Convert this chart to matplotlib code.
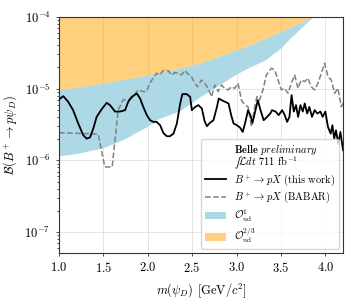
import matplotlib
matplotlib.use("Agg")
import matplotlib.pyplot as plt
from matplotlib.lines import Line2D
from matplotlib.patches import Patch
import numpy as np

plt.rcParams['font.family'] = 'serif'
plt.rcParams['font.serif'] = ['cmr10']
plt.rcParams['mathtext.fontset'] = 'cm'
plt.rcParams['axes.formatter.use_mathtext'] = True

# Belle limit (this work)
belle_m = [1.0, 1.05, 1.105, 1.16, 1.218, 1.274, 1.313, 1.35, 1.387, 1.425, 1.48, 1.538,
           1.576, 1.632, 1.688, 1.745, 1.78, 1.82, 1.877, 1.914, 1.95, 1.99, 2.027, 2.064,
           2.10, 2.14, 2.177, 2.215, 2.25, 2.29, 2.328, 2.366, 2.39, 2.44, 2.478, 2.497,
           2.535, 2.57, 2.61, 2.64, 2.667, 2.70, 2.74, 2.78, 2.80, 2.83, 2.874, 2.91, 2.94,
           2.967, 3.005, 3.04, 3.07, 3.10, 3.13, 3.156, 3.18, 3.21, 3.24, 3.27, 3.306, 3.344,
           3.38, 3.40, 3.44, 3.475, 3.514, 3.543, 3.57, 3.596, 3.62, 3.645, 3.67, 3.694, 3.72,
           3.746, 3.768, 3.796, 3.82, 3.85, 3.88, 3.91, 3.945, 3.97, 4.00, 4.03, 4.06, 4.08,
           4.10, 4.12, 4.145, 4.17, 4.20]
belle_br = [7.06e-6, 7.85e-6, 6.53e-6, 5.01e-6, 3.26e-6, 2.24e-6, 2.01e-6, 2.09e-6, 2.77e-6,
            4.04e-6, 5.13e-6, 6.34e-6, 5.89e-6, 4.79e-6, 4.79e-6, 5.01e-6, 6.53e-6, 7.67e-6,
            8.57e-6, 7.29e-6, 5.56e-6, 4.27e-6, 3.63e-6, 3.44e-6, 3.44e-6, 3.09e-6, 2.40e-6,
            2.17e-6, 2.17e-6, 2.36e-6, 3.26e-6, 6.21e-6, 8.38e-6, 8.38e-6, 7.67e-6, 5.01e-6,
            5.56e-6, 5.89e-6, 5.28e-6, 3.55e-6, 2.99e-6, 3.33e-6, 3.63e-6, 5.56e-6, 7.29e-6,
            6.92e-6, 6.53e-6, 6.21e-6, 4.27e-6, 3.26e-6, 3.09e-6, 2.86e-6, 2.49e-6, 3.44e-6,
            5.01e-6, 4.27e-6, 3.33e-6, 4.79e-6, 6.92e-6, 5.01e-6, 3.63e-6, 4.04e-6, 4.50e-6,
            5.01e-6, 4.79e-6, 4.27e-6, 5.01e-6, 4.27e-6, 3.44e-6, 4.04e-6, 8.11e-6, 4.79e-6,
            5.89e-6, 4.04e-6, 5.89e-6, 4.79e-6, 6.21e-6, 4.50e-6, 5.56e-6, 4.04e-6, 5.01e-6,
            4.50e-6, 4.79e-6, 4.04e-6, 4.79e-6, 2.92e-6, 2.36e-6, 3.09e-6, 2.01e-6, 2.63e-6,
            1.71e-6, 2.49e-6, 1.38e-6]

# BABAR limit
babar_m = [1.0, 1.442, 1.517, 1.60, 1.667, 1.723, 1.80, 1.836, 1.892, 1.948, 1.987, 2.024,
           2.061, 2.10, 2.136, 2.173, 2.23, 2.268, 2.305, 2.342, 2.38, 2.417, 2.454, 2.493,
           2.53, 2.56, 2.605, 2.642, 2.68, 2.718, 2.755, 2.792, 2.83, 2.867, 2.904, 2.943,
           2.98, 3.017, 3.055, 3.092, 3.13, 3.168, 3.205, 3.23, 3.26, 3.298, 3.336, 3.392,
           3.43, 3.467, 3.505, 3.542, 3.58, 3.618, 3.655, 3.692, 3.73, 3.767, 3.804, 3.842,
           3.88, 3.917, 3.955, 3.992, 4.03, 4.067, 4.105, 4.142, 4.18, 4.2]
babar_br = [2.43e-6, 2.33e-6, 8.1e-7, 8.1e-7, 5.0e-6, 6.95e-6, 7.1e-6, 7.7e-6, 9.6e-6, 9.1e-6,
            9.1e-6, 1.19e-5, 1.40e-5, 1.64e-5, 1.55e-5, 1.78e-5, 1.78e-5, 1.55e-5, 1.67e-5,
            1.64e-5, 1.55e-5, 1.78e-5, 1.60e-5, 1.47e-5, 1.19e-5, 1.06e-5, 1.32e-5, 1.19e-5,
            1.01e-5, 7.7e-6, 1.12e-5, 9.1e-6, 1.12e-5, 1.01e-5, 9.6e-6, 1.06e-5, 1.01e-5,
            1.19e-5, 6.95e-6, 5.9e-6, 5.6e-6, 2.94e-6, 5.6e-6, 7.7e-6, 6.95e-6, 9.6e-6,
            1.55e-5, 1.92e-5, 1.82e-5, 1.32e-5, 9.6e-6, 1.01e-5, 8.6e-6, 1.19e-5, 1.55e-5,
            1.01e-5, 1.32e-5, 1.25e-5, 1.40e-5, 1.06e-5, 9.6e-6, 1.19e-5, 1.64e-5, 2.26e-5,
            1.47e-5, 1.32e-5, 8.6e-6, 1.01e-5, 5.6e-6, 6.25e-6]

# operator bands
band_m = [1.0, 1.22, 1.5, 1.74, 1.8, 2.0, 2.12, 2.3, 2.37, 2.59, 3.0, 3.15, 3.32, 3.5, 3.6, 3.86, 4.2]
band_low = [1.15e-6, 1.26e-6, 1.5e-6, 2.0e-6, 2.2e-6, 3.0e-6, 3.8e-6, 4.6e-6, 5.0e-6, 7.7e-6,
            1.6e-5, 2.0e-5, 2.5e-5, 3.7e-5, 5.0e-5, 1.0e-4, 3.0e-4]
band_mid = [9.6e-6, 1.05e-5, 1.19e-5, 1.35e-5, 1.39e-5, 1.55e-5, 1.68e-5, 1.85e-5, 1.94e-5,
            2.26e-5, 3.47e-5, 4.07e-5, 5.0e-5, 6.24e-5, 7.1e-5, 1.0e-4, 1.8e-4]
band_top = 1e-3

fig, ax = plt.subplots(figsize=(3.57, 3.01), dpi=100)
fig.subplots_adjust(left=0.165, right=0.961, bottom=0.159, top=0.944)

ax.fill_between(band_m, band_low, band_mid, color='lightblue', lw=0, zorder=1)
ax.fill_between(band_m, band_mid, band_top, color='orange', alpha=0.5, lw=0, zorder=1)
ax.plot(belle_m, belle_br, color='black', lw=1.3, zorder=3)
ax.plot(babar_m, babar_br, color='gray', ls='--', lw=1.1, zorder=2)

ax.set_yscale('log')
ax.set_xlim(1.0, 4.2)
ax.set_ylim(5.1e-8, 1e-4)
ax.set_xticks([1.0, 1.5, 2.0, 2.5, 3.0, 3.5, 4.0])
ax.grid(True, which='major', color='#e0e0e0', lw=0.6, zorder=0)
ax.set_axisbelow(True)
ax.tick_params(labelsize=9, length=2.5, width=0.6, color='#333333')
ax.tick_params(which='minor', length=1.5, width=0.5)
for s in ax.spines.values():
    s.set_color('#333333')

ax.set_xlabel(r'$m(\psi_D)$ [GeV/$c^2$]', fontsize=9)
ax.set_ylabel(r'$\mathcal{B}(B^+ \to p\psi_D)$', fontsize=9)

handles = [Line2D([], [], color='none'),
           Line2D([], [], color='black', lw=1.3),
           Line2D([], [], color='gray', ls='--', lw=1.1),
           Patch(facecolor='lightblue'),
           Patch(facecolor='orange', alpha=0.5)]
labels = ['$\\mathbf{Belle}$ $\\mathit{preliminary}$\n$\u222b\\mathcal{L}dt$ 711 fb$^{-1}$',
          r'$B^+ \to pX$ (this work)',
          r'$B^+ \to pX$ (BABAR)',
          r'$\mathcal{O}^1_{\mathrm{ud}}$',
          r'$\mathcal{O}^{2/3}_{\mathrm{ud}}$']
leg = ax.legend(handles, labels, loc='lower right', framealpha=0.8, fontsize=7.5,
                labelspacing=0.2, borderaxespad=0.4, borderpad=0.35)
leg.get_texts()[0].set_linespacing(0.75)

fig.savefig('out.png', dpi=100)
